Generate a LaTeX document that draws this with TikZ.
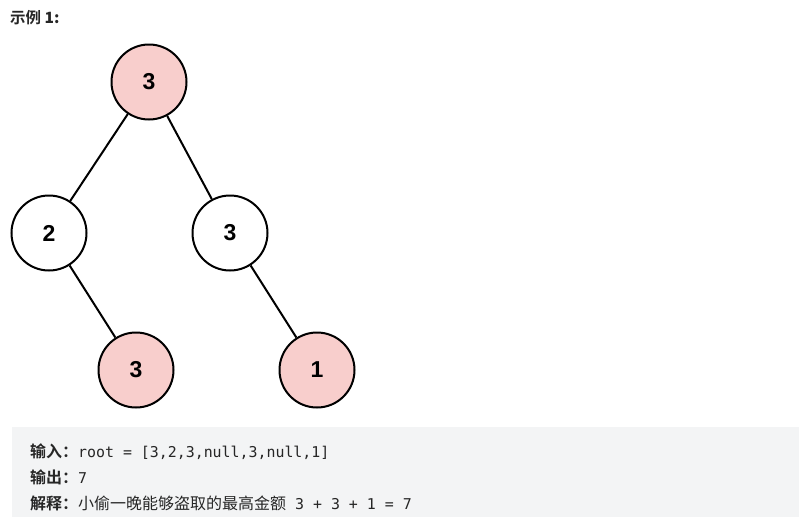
\documentclass[tikz,border=0pt]{standalone}
\usepackage{fontspec}
\setmainfont{Liberation Sans}
\setmonofont{DejaVu Sans Mono}
\newfontfamily\cjk{Noto Sans CJK SC}
\newfontfamily\cjkb{Noto Sans CJK SC Bold}
\definecolor{pinkfill}{HTML}{F8CECC}
\definecolor{boxgray}{HTML}{F3F4F5}
\definecolor{txt}{HTML}{262626}
\begin{document}
\begin{tikzpicture}[x=1pt,y=-1pt,
  tnode/.style={circle,draw=black,line width=2pt,minimum size=75pt,inner sep=0pt,
    font=\fontsize{23}{26}\selectfont\bfseries},
  hot/.style={tnode,fill=pinkfill},
  cold/.style={tnode,fill=white},
  edge/.style={line width=2pt},
  line/.style={anchor=west,inner sep=0pt,text=txt,font=\fontsize{16}{19}\selectfont},
  mono/.style={font=\fontsize{14.9}{18}\ttfamily}]
\useasboundingbox (0,0) rectangle (799,517);
\fill[white] (0,0) rectangle (799,517);
\node[anchor=west,inner sep=0pt,text=txt,font=\fontsize{15.5}{18}\selectfont] (title) at (10,18) {\cjkb 示例 \bfseries 1:};
\node[hot] (r) at (149,82) {3};
\node[cold] (a) at (49,233) {2};
\node[cold] (b) at (230,233) {3};
\node[hot] (c) at (136,370) {3};
\node[hot] (d) at (317,370) {1};
\draw[edge] (r) -- (a);
\draw[edge] (r) -- (b);
\draw[edge] (a) -- (c);
\draw[edge] (b) -- (d);
\fill[boxgray] (12,427) rectangle (799,517);
\node[line] (l1) at (30,452) {{\cjkb 输入：}{\fontsize{14.9}{18}\ttfamily root = [3,2,3,null,3,null,1]}};
\node[line] (l2) at (30,477) {{\cjkb 输出：}{\fontsize{14.9}{18}\ttfamily 7}};
\node[line] (l3) at (30,503) {{\cjkb 解释：}{\cjk 小偷一晚能够盗取的最高金额}{\fontsize{14.9}{18}\ttfamily{} 3 + 3 + 1 = 7}};
\end{tikzpicture}
\end{document}
